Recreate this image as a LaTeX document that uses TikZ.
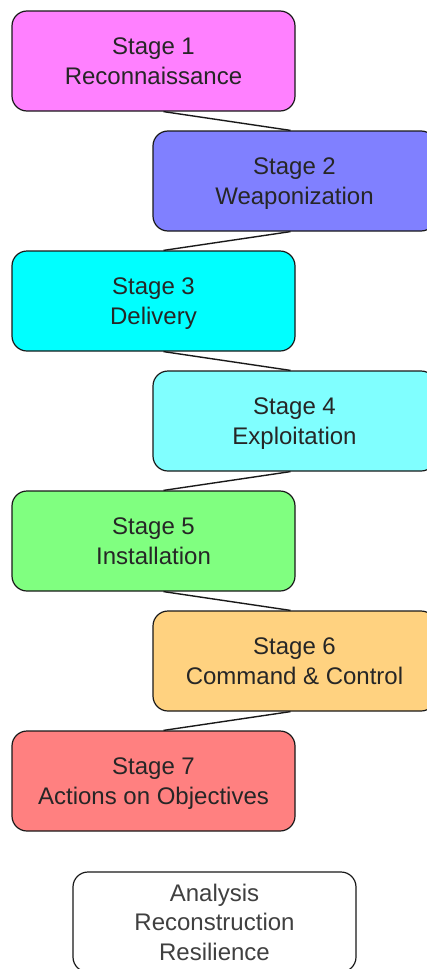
\documentclass[tikz,border=0pt]{standalone}
\usepackage{fontspec}
\setmainfont{Liberation Sans}
\usetikzlibrary{positioning}

\definecolor{reconcol}{HTML}{FF80FF}
\definecolor{weaponcol}{HTML}{8080FF}
\definecolor{delivcol}{HTML}{00FFFF}
\definecolor{exploitcol}{HTML}{80FFFF}
\definecolor{installcol}{HTML}{80FF80}
\definecolor{cccol}{HTML}{FFD280}
\definecolor{actioncol}{HTML}{FF8080}

\tikzset{
  stagebox/.style={draw=black!90, line width=1.2pt, rounded corners=15pt,
    minimum width=283pt, minimum height=100pt, inner sep=0pt, align=center,
    text=black!85, font=\fontsize{24}{29.5}\selectfont, text depth=0pt},
  link/.style={line width=1.4pt, black!90}
}

\begin{document}
\begin{tikzpicture}[x=1pt, y=-1pt]
  \useasboundingbox (0,0) rectangle (426,969);

  % Kill chain stages
  \node[stagebox, fill=reconcol]   (s1) at (153.5, 61)  {Stage 1\\Reconnaissance};
  \node[stagebox, fill=weaponcol]  (s2) at (294.5, 181) {Stage 2\\Weaponization};
  \node[stagebox, fill=delivcol]   (s3) at (153.5, 301) {Stage 3\\Delivery};
  \node[stagebox, fill=exploitcol] (s4) at (294.5, 421) {Stage 4\\Exploitation};
  \node[stagebox, fill=installcol] (s5) at (153.5, 541) {Stage 5\\Installation};
  \node[stagebox, fill=cccol]      (s6) at (294.5, 661) {Stage 6\\Command \& Control};
  \node[stagebox, fill=actioncol]  (s7) at (153.5, 781) {Stage 7\\Actions on Objectives};

  % Defence box
  \node[stagebox, fill=white, text=black!75] (def) at (214.5, 922) {Analysis\\Reconstruction\\Resilience};

  % Links
  \draw[link] ([xshift=10pt]s1.south) -- ([xshift=-4pt]s2.north);
  \draw[link] ([xshift=-4pt]s2.south) -- ([xshift=10pt]s3.north);
  \draw[link] ([xshift=10pt]s3.south) -- ([xshift=-4pt]s4.north);
  \draw[link] ([xshift=-4pt]s4.south) -- ([xshift=10pt]s5.north);
  \draw[link] ([xshift=10pt]s5.south) -- ([xshift=-4pt]s6.north);
  \draw[link] ([xshift=-4pt]s6.south) -- ([xshift=10pt]s7.north);
\end{tikzpicture}
\end{document}
